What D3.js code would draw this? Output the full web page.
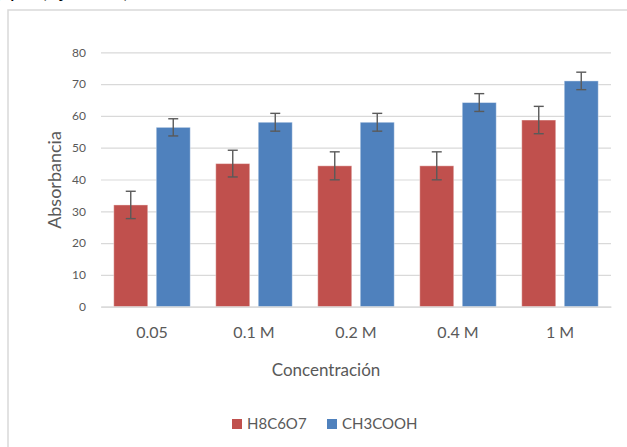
<!DOCTYPE html>
<html>
<head>
<meta charset="utf-8">
<script src="https://cdn.jsdelivr.net/npm/d3@7"></script>
<style>
  body { margin: 0; background: #fff; }
  text { font-family: Lato, "Open Sans", sans-serif; }
</style>
</head>
<body>
<div id="chart"></div>
<script>
const categories = ["0.05", "0.1 M", "0.2 M", "0.4 M", "1 M"];
const series = ["H8C6O7", "CH3COOH"];
const valuesH8C6O7 = [32, 45, 44.3, 44.3, 58.7];
const valuesCH3COOH = [56.4, 58, 58, 64.2, 71];
const errH8C6O7 = [4.3, 4.2, 4.4, 4.4, 4.3];
const errCH3COOH = [2.7, 2.8, 2.8, 2.8, 2.75];
const yTicks = [0, 10, 20, 30, 40, 50, 60, 70, 80];

(function chart(){
const width = 627,
  height = 447,
  margin = {top: 52.3, right: 16, bottom: 140.3, left: 101};

const svg = d3.select("#chart")
  .append("svg")
  .attr("width", width)
  .attr("height", height);

// partial text from the page above (cut off at the top edge)
svg.append("text")
  .attr("x", -5)
  .attr("y", -2)
  .attr("font-size", 20)
  .attr("fill", "#000")
  .text("y pH (Ajustado)");

// chart frame
svg.append("rect")
  .attr("x", 8)
  .attr("y", 10)
  .attr("width", 640)
  .attr("height", 460)
  .attr("fill", "none")
  .attr("stroke", "#d9d9d9")
  .attr("stroke-width", 1.5);

const data = categories.map((c, i) => ({
  cat: c,
  vals: [
    {key: series[0], v: valuesH8C6O7[i], e: errH8C6O7[i]},
    {key: series[1], v: valuesCH3COOH[i], e: errCH3COOH[i]}
  ]
}));

const x0 = d3.scaleBand(categories, [margin.left, width - margin.right])
  .paddingInner(0.25)
  .paddingOuter(0.125);

const x1 = d3.scaleBand(series, [0, x0.bandwidth()])
  .paddingInner(0.2);

const y = d3.scaleLinear([0, 80], [height - margin.bottom, margin.top]);

const color = d3.scaleOrdinal(series, ["#c0504d", "#4f81bd"]);

// gridlines + y labels
const yAxis = svg.append("g")
  .attr("transform", `translate(${margin.left},0)`)
  .call(d3.axisLeft(y).tickValues(yTicks).tickSize(-(width - margin.left - margin.right)).tickPadding(15));
yAxis.select(".domain").remove();
yAxis.selectAll(".tick line").attr("stroke", "#d9d9d9").attr("stroke-width", 1.2);
yAxis.selectAll(".tick text")
  .attr("fill", "#595959")
  .attr("font-size", 12)
  .style("font-family", "Lato, sans-serif");

// bars
const groups = svg.append("g")
  .selectAll("g")
  .data(data)
  .join("g")
  .attr("transform", d => `translate(${x0(d.cat)},0)`);

groups.selectAll("rect")
  .data(d => d.vals)
  .join("rect")
  .attr("x", d => x1(d.key))
  .attr("y", d => y(d.v))
  .attr("width", x1.bandwidth())
  .attr("height", d => y(0) - y(d.v))
  .attr("fill", d => color(d.key))
  .attr("stroke", "#ffffff")
  .attr("stroke-opacity", 0.4)
  .attr("stroke-width", 1);

// error bars
const eb = groups.selectAll(".err")
  .data(d => d.vals)
  .join("g")
  .attr("class", "err")
  .attr("stroke", "#5a5a5a")
  .attr("stroke-width", 1.4);

eb.append("line")
  .attr("x1", d => x1(d.key) + x1.bandwidth() / 2)
  .attr("x2", d => x1(d.key) + x1.bandwidth() / 2)
  .attr("y1", d => y(d.v + d.e))
  .attr("y2", d => y(d.v - d.e));
eb.append("line")
  .attr("x1", d => x1(d.key) + x1.bandwidth() / 2 - 5)
  .attr("x2", d => x1(d.key) + x1.bandwidth() / 2 + 5)
  .attr("y1", d => y(d.v + d.e))
  .attr("y2", d => y(d.v + d.e));
eb.append("line")
  .attr("x1", d => x1(d.key) + x1.bandwidth() / 2 - 5)
  .attr("x2", d => x1(d.key) + x1.bandwidth() / 2 + 5)
  .attr("y1", d => y(d.v - d.e))
  .attr("y2", d => y(d.v - d.e));

// x axis
const xAxis = svg.append("g")
  .attr("transform", `translate(0,${height - margin.bottom})`)
  .call(d3.axisBottom(x0).tickSize(0).tickPadding(20));
xAxis.select(".domain").attr("stroke", "#d9d9d9").attr("stroke-width", 1.2);
xAxis.selectAll(".tick text")
  .attr("fill", "#595959")
  .attr("font-size", 16)
  .style("font-family", "Lato, sans-serif");

// axis titles
svg.append("text")
  .attr("x", 326)
  .attr("y", 376)
  .attr("text-anchor", "middle")
  .attr("font-size", 17)
  .attr("fill", "#595959")
  .text("Concentración");

svg.append("text")
  .attr("transform", "translate(61,180) rotate(-90)")
  .attr("text-anchor", "middle")
  .attr("font-size", 18)
  .attr("fill", "#595959")
  .text("Absorbancia");

// legend
const legendX = [232, 327];
const legendGroup = svg.selectAll(".legend-group")
  .data(series)
  .join("g")
  .attr("class", "legend-group");

legendGroup.append("rect")
  .attr("x", (d, i) => legendX[i])
  .attr("y", 419)
  .attr("width", 10)
  .attr("height", 10)
  .attr("fill", d => color(d));

legendGroup.append("text")
  .attr("x", (d, i) => legendX[i] + 15)
  .attr("y", 429)
  .attr("font-size", 15)
  .attr("fill", "#595959")
  .text(d => d);
})();
</script>
</body>
</html>
